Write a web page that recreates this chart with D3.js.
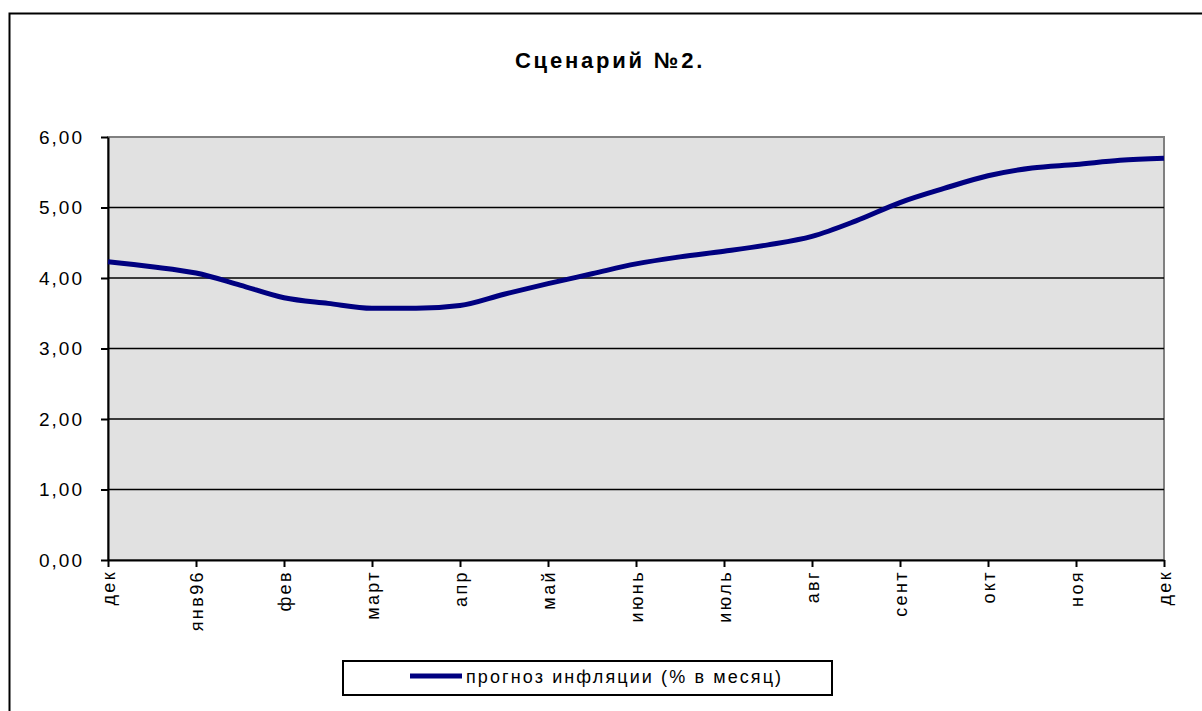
<!DOCTYPE html>
<html>
<head>
<meta charset="utf-8">
<script src="https://cdn.jsdelivr.net/npm/d3@7"></script>
<style>
  body { margin: 0; background: #fff; overflow: hidden; }
  svg { display: block; }
  text { font-family: "Liberation Sans", Arial, sans-serif; }
</style>
</head>
<body>
<svg id="chart" width="1202" height="711"></svg>
<script>
// month tick labels (one tick per month, dec 1995 .. dec 1996)
var months = ["дек", "янв96", "фев", "март", "апр", "май", "июнь", "июль", "авг", "сент", "окт", "ноя", "дек"];
// inflation forecast, % per month, read every half month
var inflation = [4.23, 4.16, 4.07, 3.90, 3.72, 3.64, 3.57, 3.57, 3.61, 3.77, 3.92, 4.06, 4.20,
                 4.30, 4.38, 4.47, 4.59, 4.81, 5.07, 5.27, 5.45, 5.56, 5.61, 5.67, 5.70];
var yTicks = [0, 1, 2, 3, 4, 5, 6];
var seriesName = "прогноз инфляции (% в месяц)";
var title = "Сценарий №2.";

var svg = d3.select("#chart");
var plotL = 108, plotR = 1164, plotT = 137, plotB = 560;

// outer chart border, only left and top edges are in the picture
svg.append("path")
  .attr("d", "M9.5,711V13.5H1202")
  .attr("fill", "none").attr("stroke", "#000").attr("stroke-width", 2);

svg.append("text")
  .attr("x", 610).attr("y", 68)
  .attr("text-anchor", "middle")
  .attr("font-size", 22).attr("font-weight", "bold")
  .attr("letter-spacing", 2.8)
  .text(title);

var x = d3.scaleLinear().domain([0, 24]).range([plotL, plotR]);
var y = d3.scaleLinear().domain([0, 6]).range([plotB, plotT]);

// plot area
svg.append("rect")
  .attr("x", plotL).attr("y", plotT).attr("width", plotR - plotL).attr("height", plotB - plotT)
  .attr("fill", "#e1e1e1").attr("stroke", "#808080").attr("stroke-width", 2);

// horizontal gridlines
svg.append("g").selectAll("line")
  .data(yTicks.filter(function(d){ return d > 0 && d < 6; }))
  .enter().append("line")
  .attr("x1", plotL).attr("x2", plotR)
  .attr("y1", function(d){ return y(d); }).attr("y2", function(d){ return y(d); })
  .attr("stroke", "#000").attr("stroke-width", 1.5);

// y axis
var yAxis = d3.axisLeft(y).tickValues(yTicks).tickSize(7).tickSizeOuter(0).tickPadding(17)
  .tickFormat(function(d){ return d3.format(".2f")(d).replace(".", ","); });
var gy = svg.append("g").attr("transform", "translate(" + plotL + ",0)").call(yAxis);
gy.selectAll("text").attr("font-size", 19).attr("fill", "#000")
  .attr("letter-spacing", 2)
  .attr("font-family", "Liberation Sans, Arial, sans-serif");
gy.selectAll("line, path").attr("stroke", "#000").attr("stroke-width", 2);

// x axis, month ticks every 2 half-months
var xAxis = d3.axisBottom(x)
  .tickValues(months.map(function(m, i){ return i * 2; }))
  .tickSize(7).tickSizeOuter(0)
  .tickFormat(function(d){ return months[d / 2]; });
var gx = svg.append("g").attr("transform", "translate(0," + plotB + ")").call(xAxis);
gx.selectAll("line, path").attr("stroke", "#000").attr("stroke-width", 2);
gx.selectAll("text")
  .attr("font-size", 18).attr("fill", "#000")
  .attr("letter-spacing", 2.4)
  .attr("font-family", "Liberation Sans, Arial, sans-serif")
  .attr("text-anchor", "end")
  .attr("transform", "rotate(-90)")
  .attr("x", -10).attr("y", 0).attr("dy", "0.35em");

// the series
var line = d3.line()
  .x(function(d, i){ return x(i); })
  .y(function(d){ return y(d); })
  .curve(d3.curveMonotoneX);

svg.append("path")
  .datum(inflation)
  .attr("d", line)
  .attr("fill", "none").attr("stroke", "#000080").attr("stroke-width", 5)
  .attr("stroke-linejoin", "round");

// legend
var lg = svg.append("g");
lg.append("rect")
  .attr("x", 343).attr("y", 661).attr("width", 489).attr("height", 34)
  .attr("fill", "#fff").attr("stroke", "#000").attr("stroke-width", 2);
lg.append("line")
  .attr("x1", 410).attr("x2", 462).attr("y1", 676).attr("y2", 676)
  .attr("stroke", "#000080").attr("stroke-width", 5);
lg.append("text")
  .attr("x", 466).attr("y", 683)
  .attr("font-size", 18)
  .attr("letter-spacing", 2.1)
  .text(seriesName);
</script>
</body>
</html>
